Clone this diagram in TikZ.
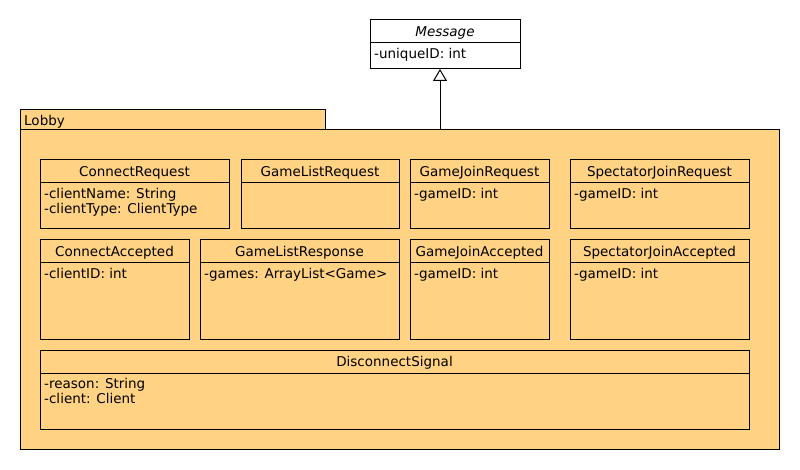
\documentclass[tikz,border=0pt]{standalone}
\usepackage{fontspec}
\setmainfont{DejaVu Sans}
\usepackage{tikz}
\usetikzlibrary{positioning,calc,arrows.meta}

\definecolor{pkgfill}{RGB}{255,211,131}

\tikzset{
    classbox/.style={draw, line width=1pt, fill=pkgfill, anchor=north west, inner sep=0, outer sep=0},
    classtitle/.style={font=\fontsize{13.5}{16}\selectfont, text height=9.5pt, text depth=2.5pt, inner sep=0},
    attrs/.style={font=\fontsize{13.5}{15.5}\selectfont, align=left, anchor=north west, inner sep=0},
    inherit/.style={line width=1pt, -{Triangle[open, length=12pt, width=14pt]}}
}

\begin{document}
\begin{tikzpicture}[x=1pt, y=-1pt]
    \useasboundingbox (0,0) rectangle (800,470);

    % Package
    \node[classbox, minimum width=305, minimum height=21] (lobbytab) at (20,110) {};
    \node[classbox, minimum width=759, minimum height=319] (lobby) at (20,130) {};
    \node[classtitle, anchor=west] (lobbylabel) at ($(lobbytab.west)+(4,2)$) {Lobby};

    % Superclass
    \node[classbox, fill=white, minimum width=150, minimum height=49] (msg) at (370,20) {};
    \node[classtitle] (msg-title) at ($(msg.north)+(0,13)$) {\itshape Message};
    \draw[line width=1pt] ($(msg.north west)+(0,23)$) -- ($(msg.north east)+(0,23)$);
    \node[attrs] (msg-attr) at ($(msg.north west)+(4,28)$) {-uniqueID: int};

    % Classes
    \foreach \n/\x/\y/\w/\h/\t/\a in {
        conreq/40/160/189/69/ConnectRequest/{-clientName: String\\-clientType: ClientType},
        glreq/241/160/158/69/GameListRequest/{},
        gjreq/410/160/139/69/GameJoinRequest/{-gameID: int},
        sjreq/570/160/179/69/SpectatorJoinRequest/{-gameID: int},
        conacc/40/240/149/99/ConnectAccepted/{-clientID: int},
        glresp/200/240/199/99/GameListResponse/{-games: ArrayList<Game>},
        gjacc/410/240/139/99/GameJoinAccepted/{-gameID: int},
        sjacc/570/240/179/99/SpectatorJoinAccepted/{-gameID: int},
        disc/40/350/709/79/DisconnectSignal/{-reason: String\\-client: Client}}
    {
        \node[classbox, minimum width=\w, minimum height=\h] (\n) at (\x,\y) {};
        \node[classtitle] (\n-title) at ($(\n.north)+(0,13)$) {\t};
        \draw[line width=1pt] ($(\n.north west)+(0,23)$) -- ($(\n.north east)+(0,23)$);
        \node[attrs] (\n-attr) at ($(\n.north west)+(4,28)$) {\a};
    }

    % Generalization
    \coordinate (inh) at (440,0);
    \draw[inherit] (lobby.north -| inh) -- (msg.south -| inh);
\end{tikzpicture}
\end{document}
